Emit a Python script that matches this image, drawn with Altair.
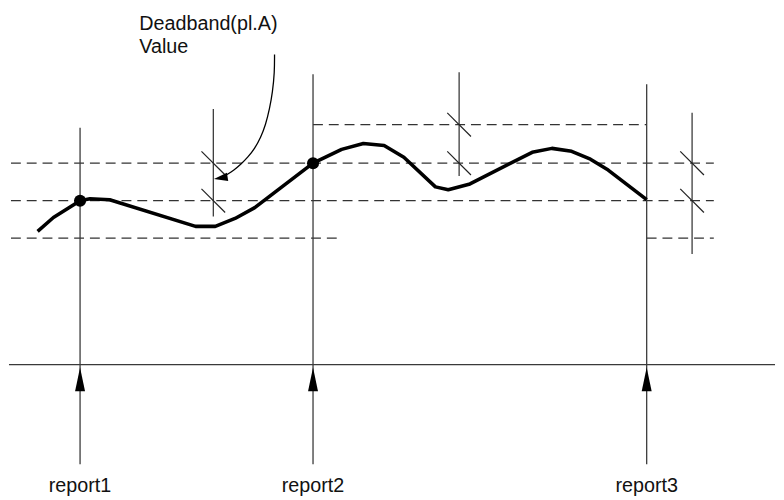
import altair as alt
import pandas as pd

# ---- data (diagram coordinates, pixel-like units) ----
report_labels = ["report1", "report2", "report3"]
report_x = [80, 316, 654]
report_top = [126, 72, 82]
arrow_bottom = 467
arrow_tip = 369
axis_y = 366
axis_x = [8, 784]
label_y = 495

dash_y = [162, 200, 238, 123, 238]
dash_x1 = [10, 10, 10, 316, 654]
dash_x2 = [722, 722, 342, 654, 722]

db_x = [215, 464, 700]
db_top = [107, 70, 111]
db_bottom = [216, 175, 254]
db_level_hi = [162, 123, 162]
db_level_lo = [200, 162, 200]
slash_half = 12

curve_x = [37, 53, 80, 90, 110, 197, 217, 237, 257, 316, 345, 367, 388, 408,
           440, 453, 475, 538, 558, 578, 597, 615, 654]
curve_y = [231, 217, 200, 198, 199, 226, 226, 218, 207, 162, 148, 142, 144, 156,
           186, 189, 183, 151, 147, 150, 158, 169, 199]

dot_x = [80, 316]
dot_y = [200, 162]

callout_x = [277, 277, 275, 272, 268, 263, 257, 250, 243, 236, 228]
callout_y = [52, 70, 90, 107, 123, 136, 147, 156, 163, 169, 174]
callout_head = (222.5, 177)

title_lines = ["Deadband(pl.A)", "Value"]
title_x = 140
title_y = [27, 50]

# ---- scales ----
X0, X1, Y0, Y1 = 8, 784, 8, 500
xs = alt.Scale(domain=[X0, X1], nice=False, zero=False)
ys = alt.Scale(domain=[Y1, Y0], nice=False, zero=False)
GRAY = "#3a3a3a"


def X(f):
    return alt.X(f, type="quantitative", scale=xs, axis=None)


def Y(f):
    return alt.Y(f, type="quantitative", scale=ys, axis=None)


# report vertical lines
rep = pd.DataFrame({"x": report_x, "top": report_top,
                    "bot": [arrow_bottom] * 3, "label": report_labels,
                    "ly": [label_y] * 3, "hy": [arrow_tip + 12] * 3})
rep_lines = alt.Chart(rep).mark_rule(color=GRAY, strokeWidth=1.3).encode(
    x=X("x"), y=Y("top"), y2="bot")
rep_heads = alt.Chart(rep).mark_point(
    shape="M0,-1L0.42,1L-0.42,1Z", size=576, filled=True, color="black",
    opacity=1, strokeWidth=0).encode(x=X("x"), y=Y("hy"))
rep_text = alt.Chart(rep).mark_text(
    font="Liberation Sans", fontSize=20, align="center", baseline="alphabetic",
    color="#111").encode(x=X("x"), y=Y("ly"), text="label")

# axis line
ax = pd.DataFrame({"x": [axis_x[0]], "x2": [axis_x[1]], "y": [axis_y]})
axis_line = alt.Chart(ax).mark_rule(color=GRAY, strokeWidth=1.3).encode(
    x=X("x"), x2="x2", y=Y("y"))

# dashed levels
dd = pd.DataFrame({"x": dash_x1, "x2": dash_x2, "y": dash_y})
dashes = alt.Chart(dd).mark_rule(color="#333", strokeWidth=1.3,
                                 strokeDash=[10, 6]).encode(
    x=X("x"), x2="x2", y=Y("y"))

# deadband markers
dbv = pd.DataFrame({"x": db_x, "top": db_top, "bot": db_bottom})
db_lines = alt.Chart(dbv).mark_rule(color=GRAY, strokeWidth=1.3).encode(
    x=X("x"), y=Y("top"), y2="bot")
sl_rows = []
for x, a, b in zip(db_x, db_level_hi, db_level_lo):
    for lv in (a, b):
        sl_rows.append({"x": x - slash_half, "x2": x + slash_half,
                        "y": lv - slash_half, "y2": lv + slash_half})
sl = pd.DataFrame(sl_rows)
slashes = alt.Chart(sl).mark_rule(color="#222", strokeWidth=1.2).encode(
    x=X("x"), x2="x2", y=Y("y"), y2="y2")

# main curve
cv = pd.DataFrame({"x": curve_x, "y": curve_y, "i": range(len(curve_x))})
curve = alt.Chart(cv).mark_line(color="black", strokeWidth=3.6,
                                strokeJoin="round").encode(
    x=X("x"), y=Y("y"), order="i:Q")

dots = alt.Chart(pd.DataFrame({"x": dot_x, "y": dot_y})).mark_circle(
    size=150, color="black", opacity=1).encode(x=X("x"), y=Y("y"))

# callout arrow
co = pd.DataFrame({"x": callout_x, "y": callout_y, "i": range(len(callout_x))})
callout = alt.Chart(co).mark_line(color="black", strokeWidth=1.3,
                                  interpolate="basis").encode(
    x=X("x"), y=Y("y"), order="i:Q")
callout_tip = alt.Chart(pd.DataFrame({"x": [callout_head[0]],
                                      "y": [callout_head[1]]})).mark_point(
    shape="M0,-1L0.6,1L-0.6,1Z", size=196, angle=261, filled=True,
    color="black", opacity=1, strokeWidth=0).encode(x=X("x"), y=Y("y"))

tt = pd.DataFrame({"x": [title_x] * 2, "y": title_y, "t": title_lines})
title = alt.Chart(tt).mark_text(
    font="Liberation Sans", fontSize=20, align="left", baseline="alphabetic",
    color="#111").encode(x=X("x"), y=Y("y"), text="t")

chart = alt.layer(
    dashes, rep_lines, axis_line, db_lines, slashes, curve, dots,
    callout, callout_tip, rep_heads, rep_text, title
).properties(
    width=X1 - X0, height=Y1 - Y0, padding=0
).configure_view(stroke=None)

chart.save("out.html", embed_options={"renderer": "svg", "actions": False})
